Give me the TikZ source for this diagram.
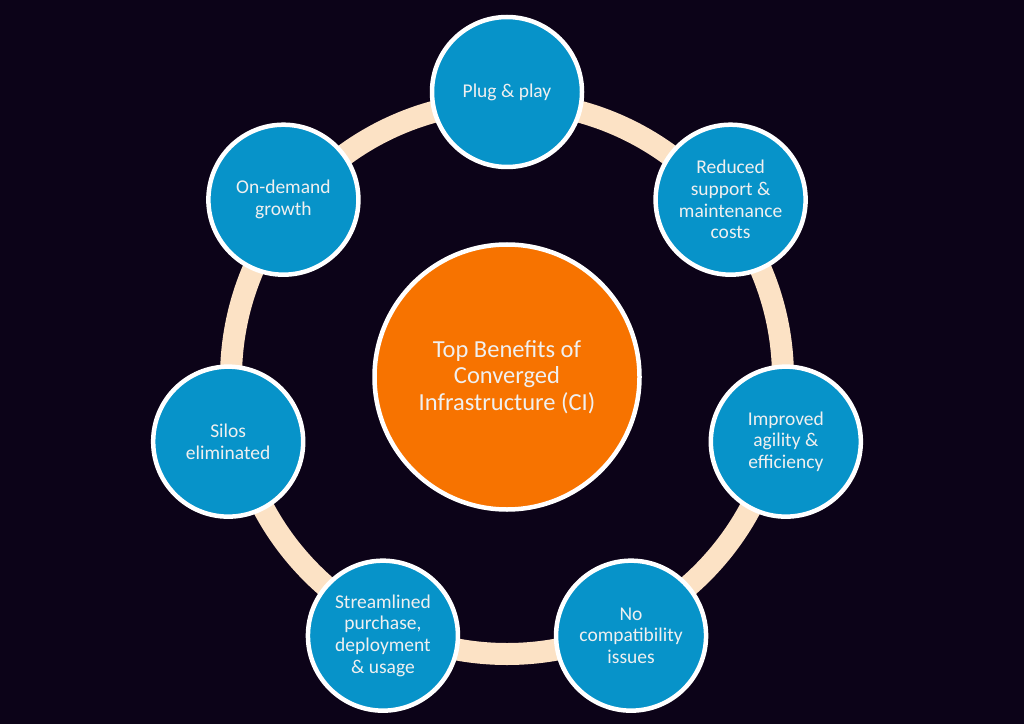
\documentclass[tikz,border=0pt]{standalone}
\usepackage{fontspec}
\setmainfont{Carlito}
\definecolor{fondo}{HTML}{0C0318}
\definecolor{anillo}{HTML}{FCE2C5}
\definecolor{azul}{HTML}{0793C9}
\definecolor{naranja}{HTML}{F77300}
\begin{document}
\begin{tikzpicture}[x=1pt,y=1pt,
    beneficio/.style={circle,fill=azul,draw=white,line width=4.5pt,minimum size=150pt,
        align=center,text=white!94!black,font=\fontsize{19.5}{21.6}\selectfont},
    nucleo/.style={circle,fill=naranja,draw=white,line width=4.5pt,minimum size=265pt,
        align=center,text=white!94!black,font=\fontsize{24.5}{26.7}\selectfont}]
    \fill[fondo] (0,0) rectangle (1024,724);
    \coordinate (ctr) at (507,346);
    \draw[anillo,line width=22pt] (ctr) circle[radius=276];
    \node[nucleo] (centro) at (507,347) {Top Benefits of\\Converged\\Infrastructure (CI)};
    % siete beneficios alrededor del anillo
    \node[beneficio] (plug)   at ([shift={(90:286)}]ctr) {Plug \& play};
    \node[beneficio] (costes) at ([shift={(38.57:286)}]ctr) {Reduced\\support \&\\maintenance\\costs};
    \node[beneficio] (agil)   at ([shift={(-12.86:286)}]ctr) {Improved\\agility \&\\efficiency};
    \node[beneficio] (compat) at ([shift={(-64.29:286)}]ctr) {No\\compatibility\\issues};
    \node[beneficio] (compra) at ([shift={(-115.71:286)}]ctr) {Streamlined\\purchase,\\deployment\\\& usage};
    \node[beneficio] (silos)  at ([shift={(-167.14:286)}]ctr) {Silos\\eliminated};
    \node[beneficio] (demanda) at ([shift={(141.43:286)}]ctr) {On-demand\\growth};
\end{tikzpicture}
\end{document}
